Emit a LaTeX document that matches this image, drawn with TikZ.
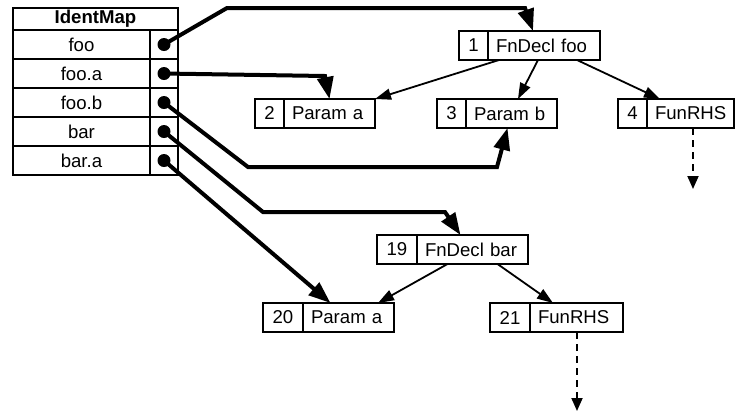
\documentclass[tikz,border=0pt]{standalone}
\usepackage{fontspec}
\setmainfont{Liberation Sans}
\usetikzlibrary{arrows.meta, positioning}
\tikzset{>={Triangle[length=8pt, width=5.5pt]},
  cell/.style={draw, line width=0.7pt, inner sep=0pt, outer sep=0pt, minimum height=14.5pt},
  numcell/.style={cell, minimum width=#1},
  numcell/.default=14.5pt,
  labcell/.style={cell, text width=#1, align=left, inner xsep=4pt},
  keycell/.style={cell, minimum width=68.5pt},
  slotcell/.style={cell, minimum width=14pt},
  dot/.style={circle, fill, inner sep=0pt, minimum size=6.5pt},
  ptr/.style={line width=2pt, -{Triangle[length=11pt, width=8pt]}},
  tree/.style={line width=0.9pt, ->},
  more/.style={line width=0.9pt, dash pattern=on 3.5pt off 2.5pt, -{Triangle[length=6.5pt, width=5.5pt]}}}

\begin{document}
\begin{tikzpicture}[x=0.5pt, y=-0.5pt, font=\fontsize{9.3}{11}\selectfont]
\useasboundingbox (0,0) rectangle (735,414);

% the identifier map
\node[cell, minimum width=82.5pt, minimum height=11pt] (map) at (95.5,19) {\textbf{IdentMap}};
\node[keycell] (kfoo) at (81.5,44.5) {foo};
\node[keycell, below=0pt of kfoo] (kfooa) {foo.a};
\node[keycell, below=0pt of kfooa] (kfoob) {foo.b};
\node[keycell, below=0pt of kfoob] (kbar) {bar};
\node[keycell, below=0pt of kbar] (kbara) {bar.a};
\node[slotcell, right=0pt of kfoo] (sfoo) {};
\node[slotcell, right=0pt of kfooa] (sfooa) {};
\node[slotcell, right=0pt of kfoob] (sfoob) {};
\node[slotcell, right=0pt of kbar] (sbar) {};
\node[slotcell, right=0pt of kbara] (sbara) {};
\node[dot] (dfoo) at (sfoo) {};
\node[dot] (dfooa) at (sfooa) {};
\node[dot] (dfoob) at (sfoob) {};
\node[dot] (dbar) at (sbar) {};
\node[dot] (dbara) at (sbara) {};

% declarations of foo
\node[numcell] (n1) at (473.5,45.5) {1};
\node[labcell=48pt, right=0pt of n1] (l1) {FnDecl foo};
\node[numcell] (n2) at (269.5,113.5) {2};
\node[labcell=37.5pt, right=0pt of n2] (l2) {Param a};
\node[numcell] (n3) at (451.5,113.5) {3};
\node[labcell=37.5pt, right=0pt of n3] (l3) {Param b};
\node[numcell] (n4) at (632.5,113.5) {4};
\node[labcell=35.5pt, right=0pt of n4] (l4) {FunRHS};

% declarations of bar
\node[numcell=20pt] (n19) at (397,249.5) {19};
\node[labcell=47.5pt, right=0pt of n19] (l19) {FnDecl bar};
\node[numcell=20pt] (n20) at (283,317.5) {20};
\node[labcell=37.5pt, right=0pt of n20] (l20) {Param a};
\node[numcell=20pt] (n21) at (510,317.5) {21};
\node[labcell=38.5pt, right=0pt of n21] (l21) {FunRHS};

\coordinate (more4) at (693,189);
\coordinate (more21) at (577,411);

% tree edges
\draw[tree] ([xshift=5.5pt]l1.south west) -- (l2.north east);
\draw[tree] ([xshift=-3pt]l1.south) -- ([xshift=3.25pt]l3.north);
\draw[tree] ([xshift=16.5pt]l1.south) -- ([xshift=6.5pt]l4.north west);
\draw[tree] ([xshift=-12.5pt]l19.south) -- ([xshift=-8pt]l20.north east);
\draw[tree] ([xshift=12.5pt]l19.south) -- ([xshift=-11.75pt]l21.north);
\draw[more] (l4.south -| more4) -- (more4);
\draw[more] (l21.south -| more21) -- (more21);

% map entries
\draw[ptr] (dfoo.center) -- (227,8) -- (525,8) -- ([xshift=-5.5pt]l1.north);
\draw[ptr] (dfooa.center) -- (325,76) -- (l2.north);
\draw[ptr] (dfoob.center) -- (248,167) -- (497,167) -- ([xshift=-2pt]l3.south);
\draw[ptr] (dbar.center) -- (263,212) -- (445,212) -- ([xshift=-6pt]l19.north);
\draw[ptr] (dbara.center) -- ([xshift=-9pt]l20.north);
\end{tikzpicture}
\end{document}
